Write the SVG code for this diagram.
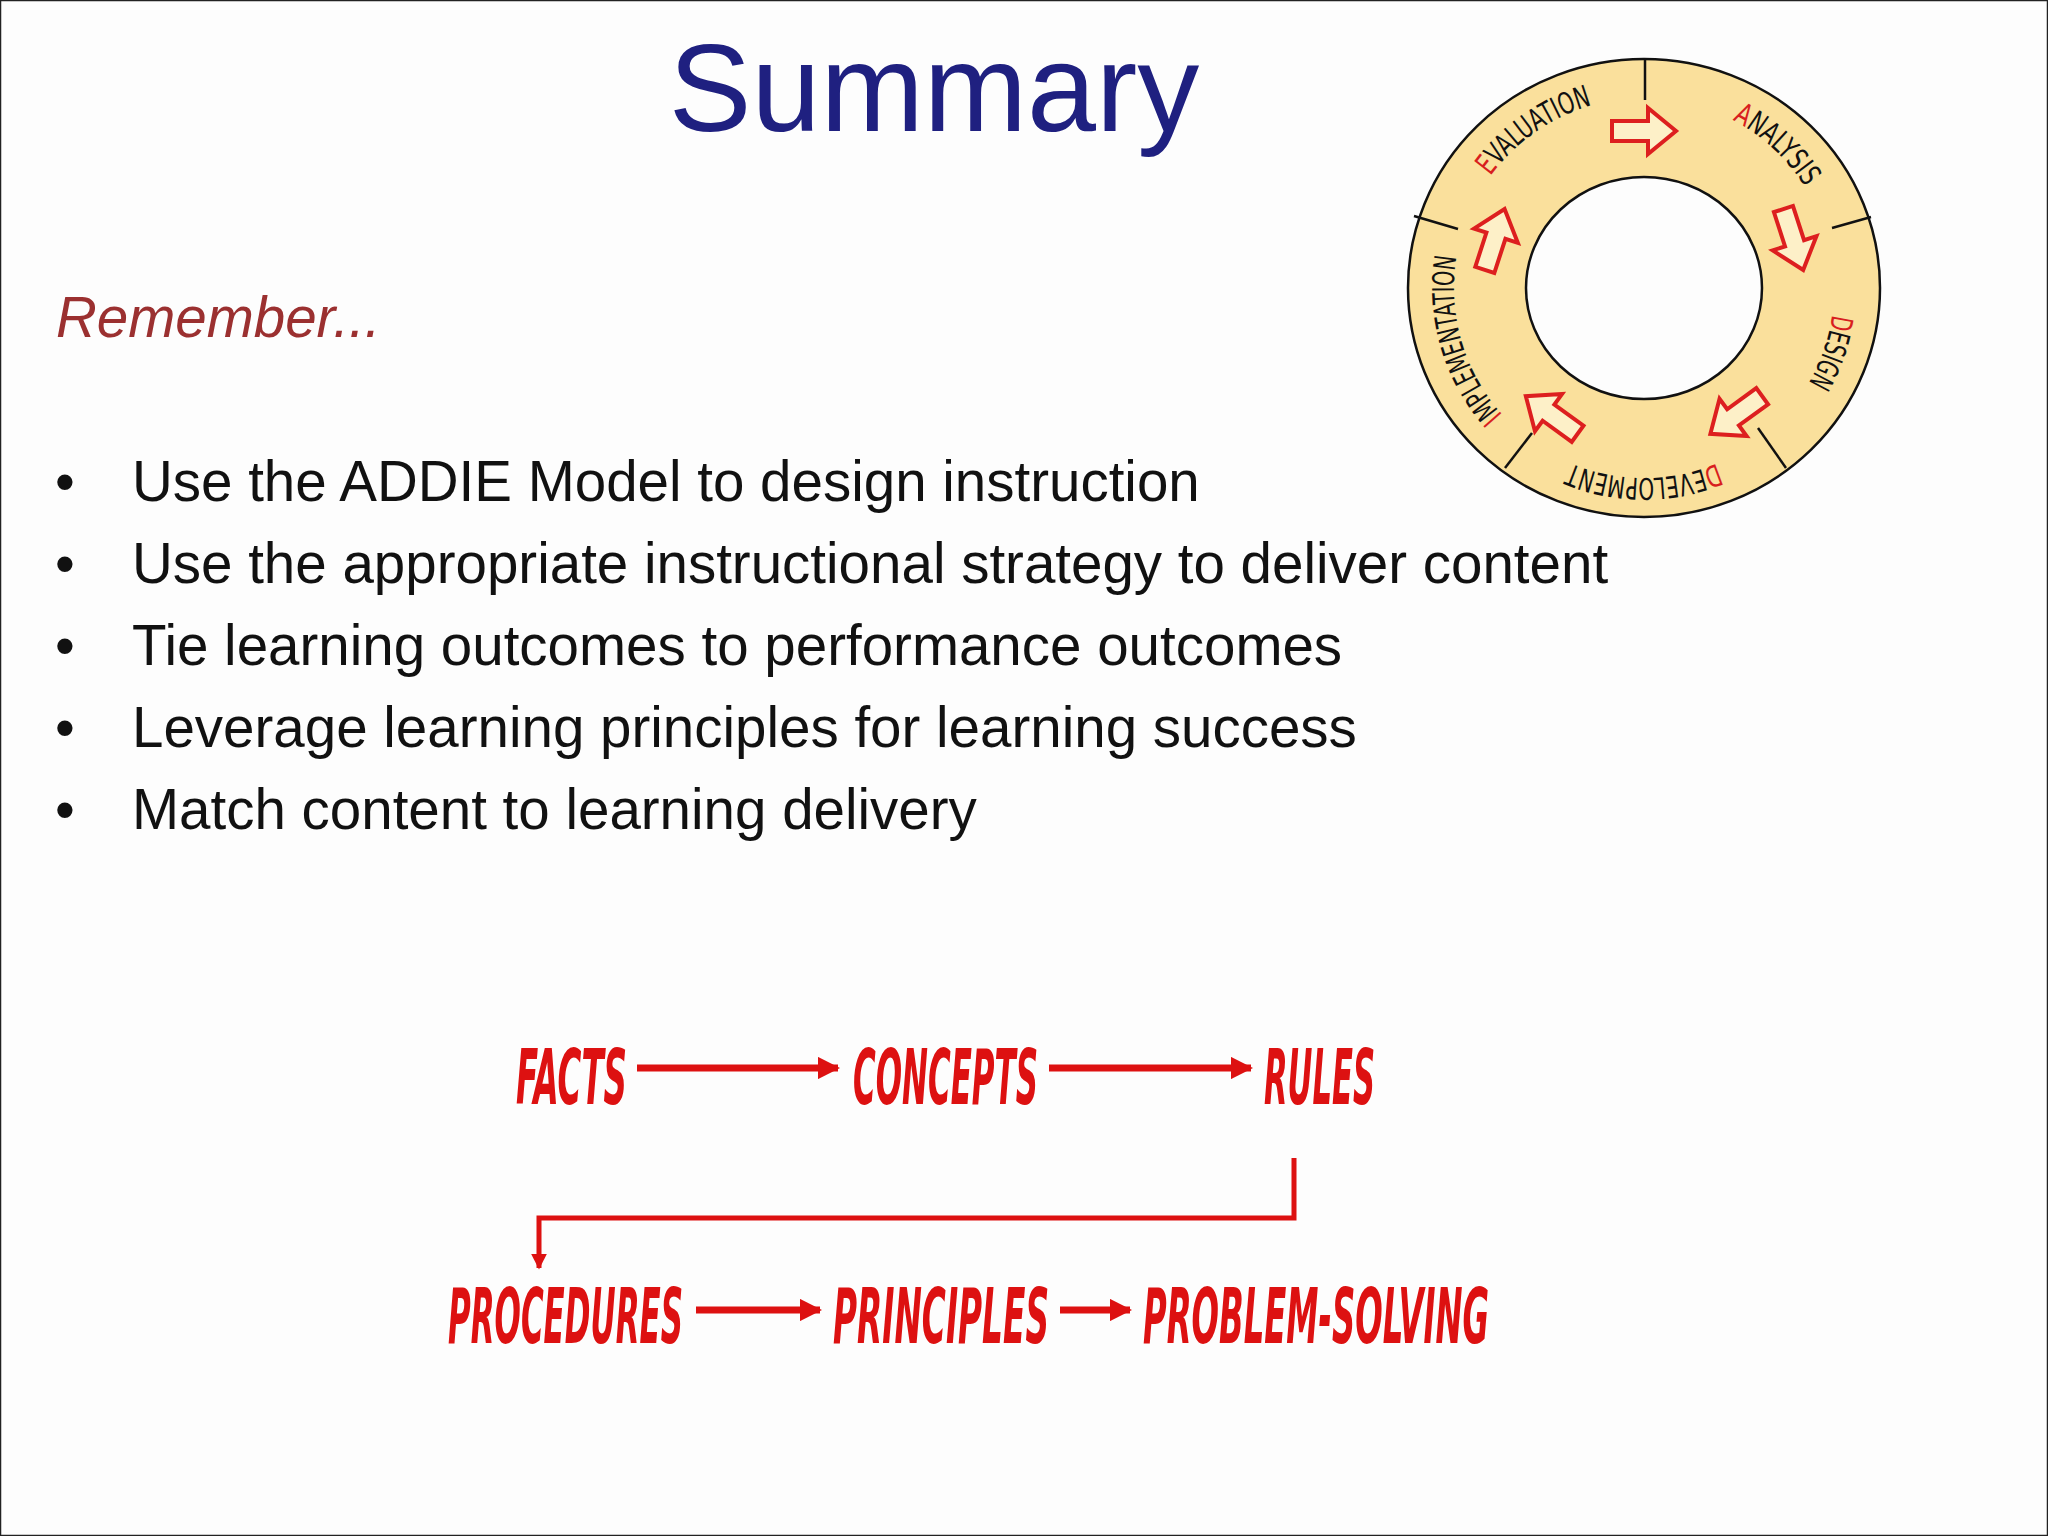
<svg xmlns="http://www.w3.org/2000/svg" xmlns:xlink="http://www.w3.org/1999/xlink" width="2048" height="1536" viewBox="0 0 2048 1536">
<style>
.bul{font-family:"Liberation Sans",Arial,sans-serif;font-size:56.5px;fill:#111}
.flow{font-family:"DejaVu Sans Condensed","DejaVu Sans",sans-serif;font-style:italic;font-weight:bold;font-size:76px;fill:#dd1111}
.ring{font-family:"DejaVu Sans Condensed","DejaVu Sans",sans-serif;font-size:30px;fill:#111}
.r{fill:#d81e1e}
.conn{stroke:#dd1111;stroke-width:7;fill:none}
.div{stroke:#111;stroke-width:2.5}
</style>
<defs>
<marker id="ah" viewBox="0 0 10 10" refX="9" refY="5" markerWidth="3.2" markerHeight="3.2" orient="auto"><path d="M0,0 L10,5 L0,10 Z" fill="#dd1111"/></marker>
<path id="blk" d="M-32,-10 L4,-10 L4,-23 L32,0 L4,23 L4,10 L-32,10 Z" fill="#fdf0c8" stroke="#dd1f1f" stroke-width="4" stroke-linejoin="miter"/>
<path id="cp" d="M1644,98 A190,190 0 1 1 1644,478 A190,190 0 1 1 1644,98"/>
</defs>
<rect x="0.5" y="0.5" width="2047" height="1535" fill="#fdfdfd" stroke="#222" stroke-width="1.5"/>
<text x="934" y="131" font-family="Liberation Sans,Arial,sans-serif" font-size="124" fill="#1f2080" text-anchor="middle">Summary</text>
<text x="56" y="337" font-family="Liberation Sans,Arial,sans-serif" font-size="56.5" font-style="italic" fill="#9b3030">Remember...</text>
<g id="bullets">
<text class="bul" x="55" y="501">•</text><text class="bul" x="132" y="501">Use the ADDIE Model to design instruction</text>
<text class="bul" x="55" y="583">•</text><text class="bul" x="132" y="583">Use the appropriate instructional strategy to deliver content</text>
<text class="bul" x="55" y="665">•</text><text class="bul" x="132" y="665">Tie learning outcomes to performance outcomes</text>
<text class="bul" x="55" y="747">•</text><text class="bul" x="132" y="747">Leverage learning principles for learning success</text>
<text class="bul" x="55" y="829">•</text><text class="bul" x="132" y="829">Match content to learning delivery</text>
</g>
<g id="addie">
<path d="M1408,288 A236,229 0 1 0 1880,288 A236,229 0 1 0 1408,288 Z M1526,288 A118,111 0 1 1 1762,288 A118,111 0 1 1 1526,288 Z" fill="#fae09c" fill-rule="evenodd" stroke="#111" stroke-width="2.5"/>
<line class="div" x1="1645" y1="59" x2="1645" y2="100"/>
<line class="div" x1="1871" y1="217" x2="1832" y2="228"/>
<line class="div" x1="1786" y1="468" x2="1758" y2="428"/>
<line class="div" x1="1505" y1="468" x2="1532" y2="433"/>
<line class="div" x1="1414" y1="216" x2="1458" y2="229"/>
<text class="ring"><textPath xlink:href="#cp" startOffset="11.9%" text-anchor="middle" textLength="100" lengthAdjust="spacingAndGlyphs"><tspan class="r">A</tspan>NALYSIS</textPath></text>
<text class="ring"><textPath xlink:href="#cp" startOffset="30.3%" text-anchor="middle" textLength="73" lengthAdjust="spacingAndGlyphs"><tspan class="r">D</tspan>ESIGN</textPath></text>
<text class="ring"><textPath xlink:href="#cp" startOffset="50%" text-anchor="middle" textLength="150" lengthAdjust="spacingAndGlyphs"><tspan class="r">D</tspan>EVELOPMENT</textPath></text>
<text class="ring"><textPath xlink:href="#cp" startOffset="70.5%" text-anchor="middle" textLength="170" lengthAdjust="spacingAndGlyphs"><tspan class="r">I</tspan>MPLEMENTATION</textPath></text>
<text class="ring"><textPath xlink:href="#cp" startOffset="90.3%" text-anchor="middle" textLength="126" lengthAdjust="spacingAndGlyphs"><tspan class="r">E</tspan>VALUATION</textPath></text>
<use xlink:href="#blk" transform="rotate(0 1644 288) translate(1644 131)"/>
<use xlink:href="#blk" transform="rotate(72 1644 288) translate(1644 131)"/>
<use xlink:href="#blk" transform="rotate(144 1644 288) translate(1644 131)"/>
<use xlink:href="#blk" transform="rotate(216 1644 288) translate(1644 131)"/>
<use xlink:href="#blk" transform="rotate(288 1644 288) translate(1644 131)"/>
</g>
<g id="n-facts"><text class="flow" x="516" y="1104" textLength="111" lengthAdjust="spacingAndGlyphs">FACTS</text></g>
<g id="n-concepts"><text class="flow" x="853" y="1104" textLength="185" lengthAdjust="spacingAndGlyphs">CONCEPTS</text></g>
<g id="n-rules"><text class="flow" x="1264" y="1104" textLength="111" lengthAdjust="spacingAndGlyphs">RULES</text></g>
<g id="n-procedures"><text class="flow" x="448" y="1343" textLength="235" lengthAdjust="spacingAndGlyphs">PROCEDURES</text></g>
<g id="n-principles"><text class="flow" x="833" y="1343" textLength="216" lengthAdjust="spacingAndGlyphs">PRINCIPLES</text></g>
<g id="n-problem"><text class="flow" x="1143" y="1343" textLength="346" lengthAdjust="spacingAndGlyphs">PROBLEM-SOLVING</text></g>
<g id="connectors">
<line class="conn" x1="637" y1="1068" x2="838" y2="1068" marker-end="url(#ah)"/>
<line class="conn" x1="1049" y1="1068" x2="1251" y2="1068" marker-end="url(#ah)"/>
<polyline class="conn" style="stroke-width:5" points="1294,1158 1294,1218 539,1218 539,1268" marker-end="url(#ah)"/>
<line class="conn" x1="696" y1="1310" x2="820" y2="1310" marker-end="url(#ah)"/>
<line class="conn" x1="1060" y1="1310" x2="1130" y2="1310" marker-end="url(#ah)"/>
</g>
</svg>
